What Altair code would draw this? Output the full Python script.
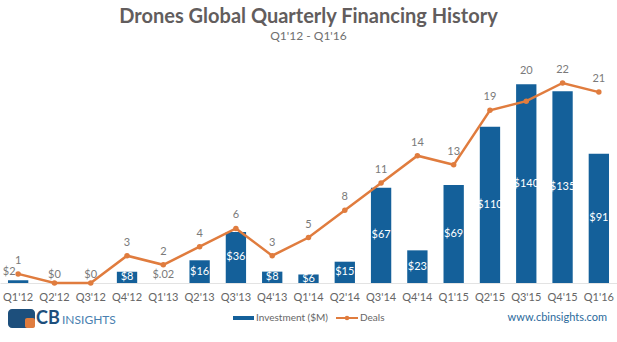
import altair as alt
import pandas as pd

quarters = ["Q1'12", "Q2'12", "Q3'12", "Q4'12", "Q1'13", "Q2'13", "Q3'13", "Q4'13",
            "Q1'14", "Q2'14", "Q3'14", "Q4'14", "Q1'15", "Q2'15", "Q3'15", "Q4'15", "Q1'16"]
investment = [2, 0, 0, 8, 0.02, 16, 36, 8, 6, 15, 67, 23, 69, 110, 140, 135, 91]
inv_labels = ["$2", "$0", "$0", "$8", "$.02", "$16", "$36", "$8", "$6", "$15", "$67",
              "$23", "$69", "$110", "$140", "$135", "$91"]
deals = [1, 0, 0, 3, 2, 4, 6, 3, 5, 8, 11, 14, 13, 19, 20, 22, 21]

BLUE = "#14609a"
ORANGE = "#e07c3e"
GRAY = "#7a7a7a"
FONT = "Lato"
INV_MAX = 150
DEAL_MAX = 23.43

df = pd.DataFrame({"q": quarters, "inv": investment, "lab": inv_labels, "deals": deals})

x = alt.X("q:N", sort=quarters, title=None,
          scale=alt.Scale(paddingInner=0.44, paddingOuter=0.22),
          axis=alt.Axis(labelAngle=0, ticks=False, domainColor="#e3e3e3",
                        labelColor="#666666", labelFontSize=11, labelFont=FONT,
                        labelPadding=8, grid=False))
inv_scale = alt.Scale(domain=[0, INV_MAX])
deal_scale = alt.Scale(domain=[0, DEAL_MAX])

base = alt.Chart(df)

bars = base.mark_bar(color=BLUE).encode(
    x=x, y=alt.Y("inv:Q", scale=inv_scale, axis=None))
inner = base.transform_filter("datum.inv >= 5").transform_calculate(
    mid="datum.inv / 2").mark_text(color="white", fontSize=11, font=FONT,
                                   baseline="middle").encode(
    x=x, y=alt.Y("mid:Q", scale=inv_scale, axis=None), text="lab:N")
outer = base.transform_filter("datum.inv < 5 && datum.q != \"Q1'12\"").mark_text(
    color=GRAY, fontSize=11, font=FONT, baseline="middle", dy=-8).encode(
    x=x, y=alt.Y("inv:Q", scale=inv_scale, axis=None), text="lab:N")
outer_first = base.transform_filter("datum.q == \"Q1'12\"").mark_text(
    color=GRAY, fontSize=11, font=FONT, baseline="middle", dy=-8, dx=-9).encode(
    x=x, y=alt.Y("inv:Q", scale=inv_scale, axis=None), text="lab:N")
bar_layer = alt.layer(bars, inner, outer, outer_first)

line = base.mark_line(color=ORANGE, strokeWidth=2.5,
                      point=alt.OverlayMarkDef(color=ORANGE, size=30, filled=True)).encode(
    x=x, y=alt.Y("deals:Q", scale=deal_scale, axis=None))
dlabels = base.transform_filter("datum.deals > 0").transform_calculate(
    pos=f"max(datum.deals, datum.inv * {DEAL_MAX} / {INV_MAX})").mark_text(
    color=GRAY, fontSize=11, font=FONT, baseline="middle", dy=-13).encode(
    x=x, y=alt.Y("pos:Q", scale=deal_scale, axis=None), text="deals:Q")
line_layer = alt.layer(line, dlabels)

one = alt.Chart(pd.DataFrame({"a": [0]}))
# legend & footer (plot origin is at (0,70))
leg_bar = one.mark_rule(color=BLUE, strokeWidth=4).encode(
    x=alt.value(233), x2=alt.value(254), y=alt.value(248))
leg_bar_t = one.mark_text(text="Investment ($M)", align="left", baseline="middle",
                          fontSize=10, font=FONT, color="#666666").encode(
    x=alt.value(256), y=alt.value(248))
leg_line = one.mark_rule(color=ORANGE, strokeWidth=2).encode(
    x=alt.value(336), x2=alt.value(358), y=alt.value(248))
leg_pt = one.mark_point(color=ORANGE, filled=True, size=20, opacity=1).encode(
    x=alt.value(347), y=alt.value(248))
leg_line_t = one.mark_text(text="Deals", align="left", baseline="middle",
                           fontSize=10, font=FONT, color="#666666").encode(
    x=alt.value(360), y=alt.value(248))
url = one.mark_text(text="www.cbinsights.com", align="right", baseline="middle",
                    fontSize=11, font=FONT, color="#2b6a9c").encode(
    x=alt.value(607), y=alt.value(248))
logo_a = one.mark_rect(color="#1d4f7c", cornerRadius=4).encode(
    x=alt.value(8), x2=alt.value(35), y=alt.value(239), y2=alt.value(258))
logo_b = one.mark_rect(color=ORANGE, cornerRadius=2).encode(
    x=alt.value(25), x2=alt.value(35), y=alt.value(248), y2=alt.value(258))
logo_cb = one.mark_text(text="CB", align="left", baseline="middle", fontSize=18,
                        fontWeight="bold", font=FONT, color="#1d4f7c").encode(
    x=alt.value(36), y=alt.value(249))
logo_ins = one.mark_text(text="INSIGHTS", align="left", baseline="middle", fontSize=12,
                         font=FONT, color="#4a7fb0").encode(
    x=alt.value(62), y=alt.value(250))

chart = alt.layer(
    bar_layer, line_layer,
    leg_bar, leg_bar_t, leg_line, leg_pt, leg_line_t, url,
    logo_a, logo_b, logo_cb, logo_ins,
).resolve_scale(y="independent").properties(
    width=617, height=213,
    background="white",
    title=alt.TitleParams(
        text="Drones Global Quarterly Financing History",
        subtitle="Q1'12 - Q1'16",
        anchor="middle", font=FONT, fontSize=20, fontWeight="bold", color="#625d5d",
        subtitleFont=FONT, subtitleFontSize=12, subtitleColor="#707070",
        subtitlePadding=4, offset=22),
    autosize=alt.AutoSizeParams(type="none"),
    padding={"left": 0, "right": 0, "top": 70, "bottom": 59},
).configure_view(stroke=None)

chart.save("out.html", embed_options={"renderer": "svg", "actions": False})
